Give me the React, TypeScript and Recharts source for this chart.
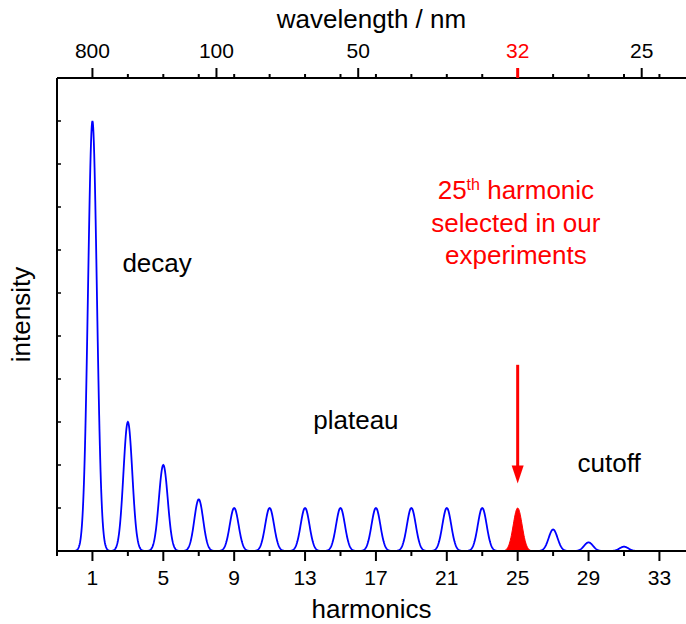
import React from 'react';
import {
  ComposedChart,
  Line,
  Area,
  XAxis,
  YAxis,
  ReferenceDot,
  ReferenceLine,
} from 'recharts';

// odd harmonic orders and their peak intensities (arb. units)
const harmonicOrders = [1, 3, 5, 7, 9, 11, 13, 15, 17, 19, 21, 23, 25, 27, 29, 31];
const peakHeights = [10, 3.0, 2.0, 1.2, 1.0, 1.0, 1.0, 1.0, 1.0, 1.0, 1.0, 1.0, 1.0, 0.5, 0.2, 0.1];
const selectedHarmonic = 25;

// bottom axis
const harmonicTicks = [-1, 1, 3, 5, 7, 9, 11, 13, 15, 17, 19, 21, 23, 25, 27, 29, 31, 33];
const harmonicLabels = [1, 5, 9, 13, 17, 21, 25, 29, 33];

// top axis: wavelength of the fundamental divided by the order
const wavelengthTicks = [1, 3, 5, 7, 8, 9, 11, 13, 15, 16, 17, 19, 21, 23, 25, 27, 29, 31, 32, 33];
const wavelengthPositions = [1, 8, 16, 25, 32];
const wavelengthLabels = ['800', '100', '50', '32', '25'];

const intensityTicks = [1, 2, 3, 4, 5, 6, 7, 8, 9, 10];

const peakSigma = 0.25;
const xMin = -1;
const xMax = 34.5;
const step = 0.02;

const spectrum: Array<{h: number; emission: number | null; selected: number | null}> = [];
for (let i = 0; i <= Math.round((xMax - xMin) / step); i++) {
  const h = xMin + i * step;
  let blue = 0;
  let red = 0;
  harmonicOrders.forEach((q, k) => {
    const v = peakHeights[k] * Math.exp(-((h - q) ** 2) / (2 * peakSigma ** 2));
    if (q === selectedHarmonic) red += v;
    else blue += v;
  });
  spectrum.push({
    h: +h.toFixed(2),
    emission: blue > 0.003 ? blue : null,
    selected: red > 0.003 ? red : null,
  });
}

const FONT = '"Liberation Sans", Arial, sans-serif';

const BottomTick = (props: any) => {
  const {x, y, payload} = props;
  const major = harmonicLabels.includes(payload.value);
  return (
    <g>
      <line x1={x} x2={x} y1={y} y2={y + (major ? 10 : 5)} stroke="#000" strokeWidth={2} />
      {major && (
        <text x={x} y={y + 33.5} textAnchor="middle" fontSize={21} fill="#000">
          {payload.value}
        </text>
      )}
    </g>
  );
};

const TopTick = (props: any) => {
  const {x, y, payload} = props;
  const idx = wavelengthPositions.indexOf(payload.value);
  const major = idx >= 0;
  const color = payload.value === selectedHarmonic ? '#ff0000' : '#000';
  return (
    <g>
      <line
        x1={x}
        x2={x}
        y1={y}
        y2={y - (major ? 10 : 4)}
        stroke={color}
        strokeWidth={payload.value === selectedHarmonic ? 3 : 2}
      />
      {major && (
        <text x={x} y={y - 20} textAnchor="middle" fontSize={21} fill={color}>
          {wavelengthLabels[idx]}
        </text>
      )}
    </g>
  );
};

const LeftTick = (props: any) => {
  const {x, y} = props;
  return <line x1={x} x2={x + 4} y1={y} y2={y} stroke="#000" strokeWidth={1.5} />;
};

const Arrow = (props: any) => {
  const {x1, y1, x2, y2} = props;
  return (
    <g>
      <line x1={x1} x2={x2} y1={y1} y2={y2 - 16} stroke="#ff0000" strokeWidth={3} />
      <polygon points={`${x2 - 6},${y2 - 18} ${x2 + 6},${y2 - 18} ${x2},${y2}`} fill="#ff0000" />
    </g>
  );
};

const note = (text: string) => (p: any) => (
  <text x={p.cx} y={p.cy} textAnchor="middle" fontSize={26} fill="#000">
    {text}
  </text>
);

const SelectedNote = (p: any) => (
  <text x={p.cx} y={p.cy} textAnchor="middle" fontSize={26} fill="#ff0000">
    <tspan x={p.cx}>
      25<tspan dy={-9} fontSize={16}>th</tspan>
      <tspan dy={9}> harmonic</tspan>
    </tspan>
    <tspan x={p.cx} dy={33}>selected in our</tspan>
    <tspan x={p.cx} dy={32}>experiments</tspan>
  </text>
);

export default function App() {
  return (
    <div
      style={{
        position: 'absolute',
        left: 0,
        top: 0,
        width: 686,
        height: 624,
        overflow: 'hidden',
        background: '#fff',
        fontFamily: FONT,
      }}
    >
      <ComposedChart
        width={686}
        height={624}
        data={spectrum}
        margin={{top: 38, right: 0, bottom: 33, left: 0}}
        style={{fontFamily: FONT}}
      >
        <XAxis
          xAxisId="bottom"
          dataKey="h"
          type="number"
          domain={[xMin, xMax]}
          ticks={harmonicTicks}
          interval={0}
          height={40}
          tickSize={0}
          tickMargin={0}
          tickLine={false}
          axisLine={{stroke: '#000', strokeWidth: 2}}
          tick={BottomTick}
          allowDataOverflow
          label={(p: any) => {
            const vb = p.viewBox;
            return (
              <text x={vb.x + vb.width / 2} y={vb.y + 67} textAnchor="middle" fontSize={26} fill="#000">
                harmonics
              </text>
            );
          }}
        />
        <XAxis
          xAxisId="top"
          orientation="top"
          dataKey="h"
          type="number"
          domain={[xMin, xMax]}
          ticks={wavelengthTicks}
          interval={0}
          height={40}
          tickSize={0}
          tickMargin={0}
          tickLine={false}
          axisLine={{stroke: '#000', strokeWidth: 2}}
          tick={TopTick}
          allowDataOverflow
          label={(p: any) => {
            const vb = p.viewBox;
            return (
              <text x={vb.x + vb.width / 2} y={vb.y + vb.height - 50} textAnchor="middle" fontSize={26} fill="#000">
                wavelength / nm
              </text>
            );
          }}
        />
        <YAxis
          type="number"
          domain={[0, 11]}
          ticks={intensityTicks}
          interval={0}
          width={57}
          tickSize={0}
          tickMargin={0}
          tickLine={false}
          axisLine={{stroke: '#000', strokeWidth: 2}}
          tick={LeftTick}
          allowDataOverflow
          label={(p: any) => {
            const vb = p.viewBox;
            const cy = vb.y + vb.height / 2;
            return (
              <text
                x={21}
                y={cy}
                transform={`rotate(-90 21 ${cy})`}
                textAnchor="middle"
                dominantBaseline="central"
                fontSize={26}
                fill="#000"
              >
                intensity
              </text>
            );
          }}
        />
        <Area
          xAxisId="bottom"
          dataKey="selected"
          type="linear"
          stroke="#ff0000"
          strokeWidth={1}
          fill="#ff0000"
          fillOpacity={1}
          isAnimationActive={false}
        />
        <Line
          xAxisId="bottom"
          dataKey="emission"
          type="linear"
          stroke="#0000ff"
          strokeWidth={1.8}
          dot={false}
          isAnimationActive={false}
        />
        <ReferenceLine
          xAxisId="bottom"
          segment={[
            {x: selectedHarmonic, y: 4.33},
            {x: selectedHarmonic, y: 1.57},
          ]}
          ifOverflow="visible"
          shape={Arrow}
        />
        <ReferenceDot xAxisId="bottom" x={4.65} y={6.49} r={0} ifOverflow="visible" shape={note('decay')} />
        <ReferenceDot xAxisId="bottom" x={15.87} y={2.84} r={0} ifOverflow="visible" shape={note('plateau')} />
        <ReferenceDot xAxisId="bottom" x={30.16} y={1.84} r={0} ifOverflow="visible" shape={note('cutoff')} />
        <ReferenceDot xAxisId="bottom" x={24.9} y={8.19} r={0} ifOverflow="visible" shape={SelectedNote} />
      </ComposedChart>
    </div>
  );
}
